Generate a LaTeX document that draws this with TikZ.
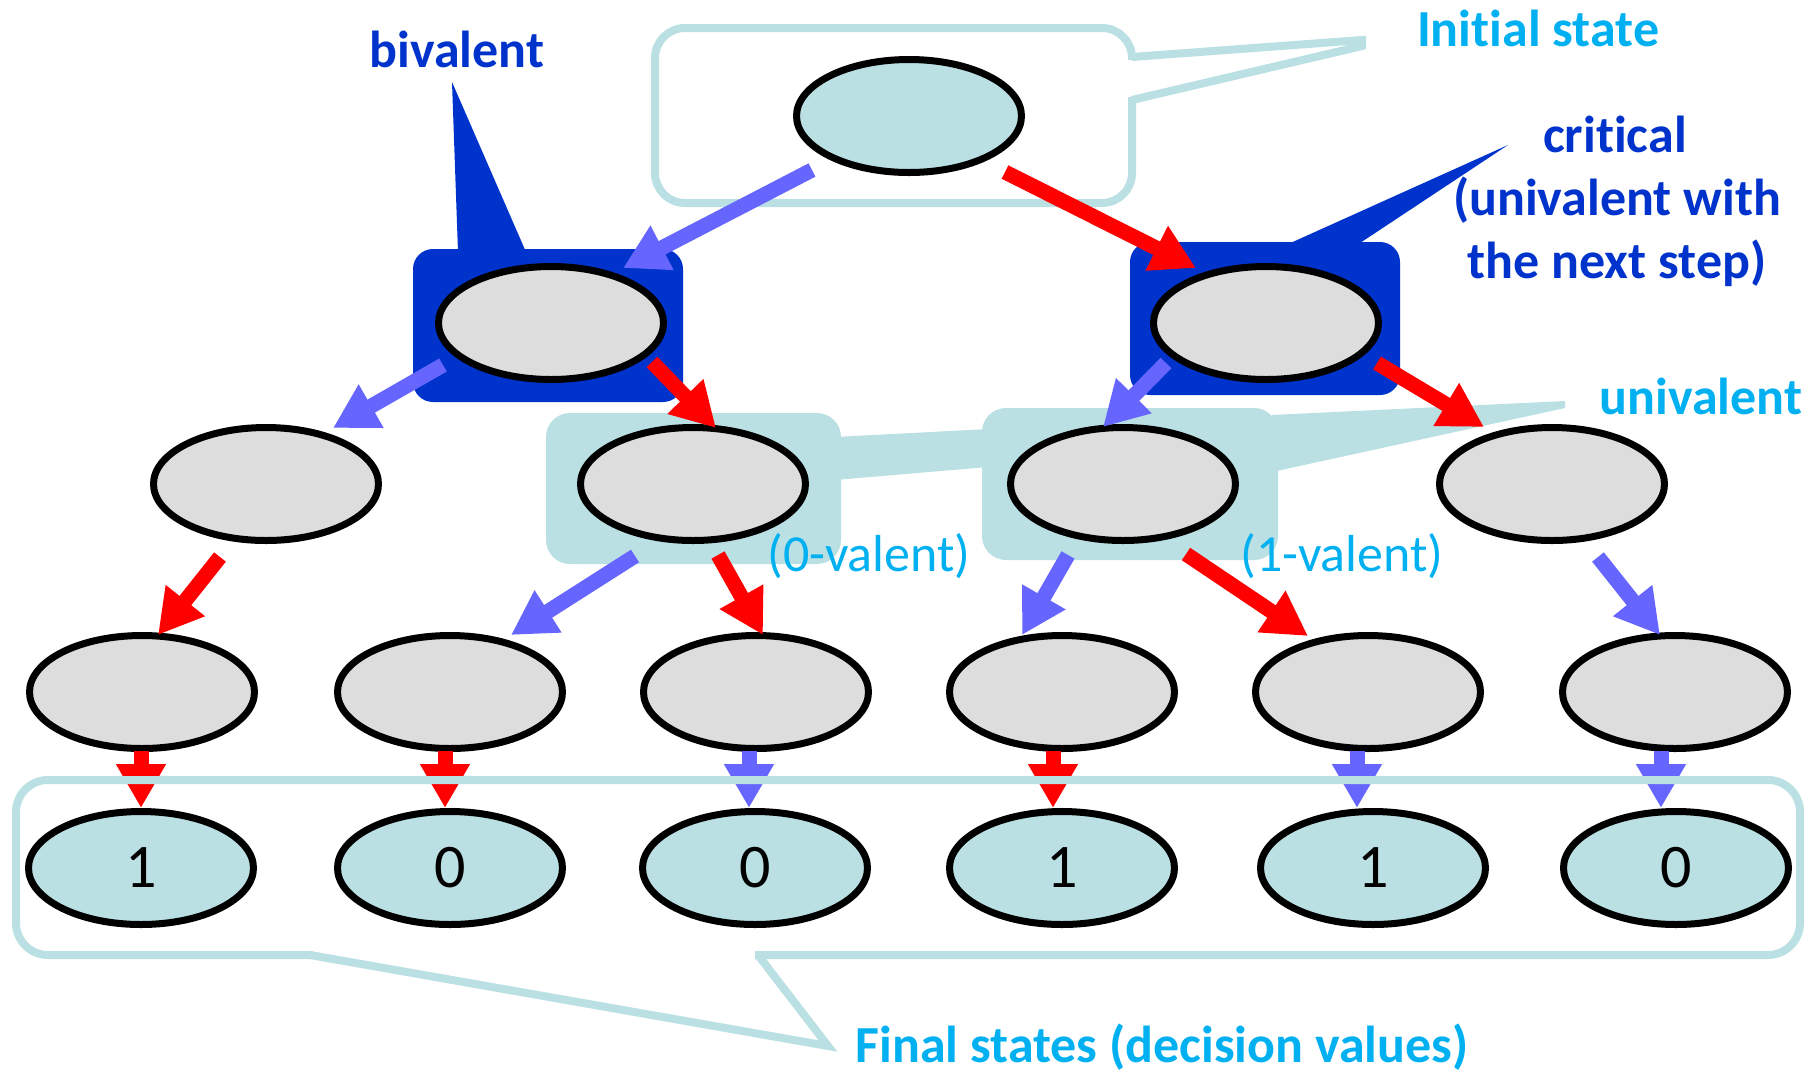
\documentclass[tikz,border=0pt]{standalone}
\usepackage{fontspec}
\setmainfont[Ligatures={NoCommon,NoContextual}]{Carlito}
\usetikzlibrary{arrows.meta,shapes.geometric,calc}
\definecolor{tealL}{HTML}{BBE0E3}
\definecolor{grayF}{HTML}{DDDDDD}
\definecolor{dblue}{HTML}{0033CC}
\definecolor{cyanT}{HTML}{00B0F0}
\definecolor{barrow}{HTML}{6666FF}
\definecolor{rarrow}{HTML}{FF0000}
\begin{document}
\begin{tikzpicture}[x=0.5pt,y=-0.5pt,
  stnode/.style={ellipse, draw=black, line width=3.5pt, fill=grayF,
    minimum width=112.5pt, minimum height=56.5pt, inner sep=0pt},
  finstate/.style={stnode, fill=tealL, font=\fontsize{31}{36}\selectfont},
  arr/.style={line width=7.5pt, -{Triangle[width=23.5pt,length=22pt]}},
  barr/.style={arr, color=barrow},
  rarr/.style={arr, color=rarrow},
  callout/.style={draw=tealL, line width=4pt},
  boldlbl/.style={anchor=base, inner sep=0pt, font=\fontsize{26}{31.5}\selectfont\bfseries},
  reglbl/.style={anchor=base, inner sep=0pt, font=\fontsize{26}{31.5}\selectfont},
]
\useasboundingbox (0,0) rectangle (1812,1073);

% univalent highlights
\fill[tealL, rounded corners=12pt] (546,413) rectangle (841,564);
\fill[tealL, rounded corners=12pt] (982,408) rectangle (1278,560);
\fill[tealL] (835,437) -- (988,429) -- (988,467) -- (835,480) -- cycle;
\fill[tealL] (1272,415) -- (1565,401) -- (1565,408) -- (1272,472) -- cycle;

% blue callouts
\fill[dblue, rounded corners=10pt] (413,249) rectangle (683,402);
\fill[dblue] (458,252) -- (452,82) -- (526,252) -- cycle;
\fill[dblue, rounded corners=10pt] (1130,242) rectangle (1400,395);
\fill[dblue] (1286,245) -- (1508,145) -- (1357,245) -- cycle;

% initial state callout
\draw[callout, rounded corners=15pt] (655,28) rectangle (1132,203);
\fill[white] (1127,60) rectangle (1138,97);
\draw[callout] (1132,57) -- (1362,40) -- (1362,46) -- (1132,100);

% states
\node[stnode, fill=tealL] (s0) at (909,116) {};
\node[stnode] (s1a) at (551,323) {};
\node[stnode] (s1b) at (1266,323) {};
\node[stnode] (s2a) at (266,484) {};
\node[stnode] (s2b) at (693,484) {};
\node[stnode] (s2c) at (1123,484) {};
\node[stnode] (s2d) at (1552,484) {};
\node[stnode] (s3a) at (142,692) {};
\node[stnode] (s3b) at (450,692) {};
\node[stnode] (s3c) at (756,692) {};
\node[stnode] (s3d) at (1062,692) {};
\node[stnode] (s3e) at (1368,692) {};
\node[stnode] (s3f) at (1675,692) {};
\node[finstate] (s4a) at (141,868) {1};
\node[finstate] (s4b) at (450,868) {0};
\node[finstate] (s4c) at (755,868) {0};
\node[finstate] (s4d) at (1062,868) {1};
\node[finstate] (s4e) at (1373,868) {1};
\node[finstate] (s4f) at (1676,868) {0};

% arrows
\draw[barr] ($(s0)+(-97,54)$) -- ($(s1a)+(72,-55)$);
\draw[rarr] ($(s0)+(96,56)$) -- ($(s1b)+(-70,-55)$);
\draw[barr] ($(s1a)+(-108,42)$) -- ($(s2a)+(67,-56)$);
\draw[rarr] ($(s1a)+(101,39)$) -- ($(s2b)+(23,-56)$);
\draw[barr] ($(s1b)+(-100,40)$) -- ($(s2c)+(-20,-57)$);
\draw[rarr] ($(s1b)+(111,40)$) -- ($(s2d)+(-68,-57)$);
\draw[rarr] ($(s2a)+(-46,73)$) -- ($(s3a)+(16,-57)$);
\draw[barr] ($(s2b)+(-58,72)$) -- ($(s3b)+(61,-57)$);
\draw[rarr] ($(s2b)+(25,71)$) -- ($(s3c)+(7,-57)$);
\draw[barr] ($(s2c)+(-55,71)$) -- ($(s3d)+(-40,-57)$);
\draw[rarr] ($(s2c)+(63,70)$) -- ($(s3e)+(-60,-56)$);
\draw[barr] ($(s2d)+(46,73)$) -- ($(s3f)+(-15,-57)$);
\draw[rarr] ($(s3a)+(-1,59)$) -- ($(s4a)+(0,-60)$);
\draw[rarr] ($(s3b)+(-5,59)$) -- ($(s4b)+(-5,-60)$);
\draw[barr] ($(s3c)+(-7,59)$) -- ($(s4c)+(-6,-60)$);
\draw[rarr] ($(s3d)+(-9,59)$) -- ($(s4d)+(-9,-60)$);
\draw[barr] ($(s3e)+(-11,59)$) -- ($(s4e)+(-16,-60)$);
\draw[barr] ($(s3f)+(-14,59)$) -- ($(s4f)+(-15,-60)$);

% final states callout
\draw[callout, rounded corners=16pt] (16,780) rectangle (1800,955);
\fill[white] (313,950) rectangle (755,960);
\draw[callout] (310,955) -- (828,1046) -- (758,955);

% labels
\node[boldlbl, text=dblue] (tbiv) at (457,67) {bivalent};
\node[boldlbl, text=cyanT] (tinit) at (1538,46) {Initial state};
\node[boldlbl, text=dblue] (tcr1) at (1615,152) {critical};
\node[boldlbl, text=dblue] (tcr2) at (1617,215) {(univalent with};
\node[boldlbl, text=dblue] (tcr3) at (1617,278) {the next step)};
\node[boldlbl, text=cyanT] (tuni) at (1701,414) {univalent};
\node[reglbl, text=cyanT] (tzero) at (869,571) {(0-valent)};
\node[reglbl, text=cyanT] (tone) at (1342,571) {(1-valent)};
\node[boldlbl, text=cyanT] (tfinal) at (1162,1062) {Final states (decision values)};
\end{tikzpicture}
\end{document}
